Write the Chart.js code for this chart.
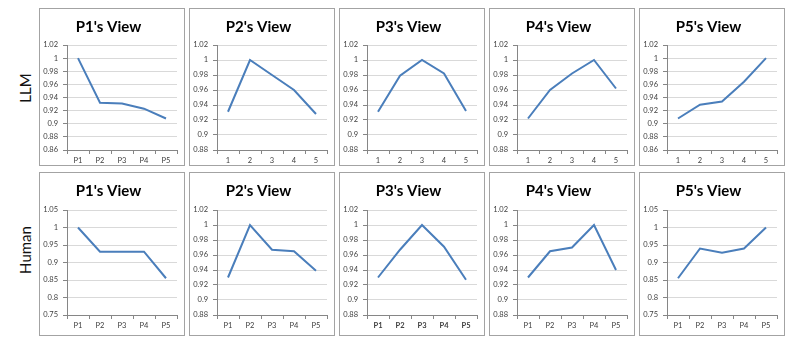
<!DOCTYPE html>
<html>
<head>
<meta charset="utf-8">
<script src="https://cdn.jsdelivr.net/npm/chart.js@4/dist/chart.umd.min.js"></script>
<style>
  body { margin: 0; background: #fff; width: 800px; height: 346px; position: relative; overflow: hidden; font-family: Lato, "Open Sans", sans-serif; }
  .panel { position: absolute; box-sizing: border-box; border: 1px solid #a3a3a3; background: #fff; }
  .panel canvas { position: absolute; left: 0; top: 0; }
  .rowlabel { position: absolute; font-size: 15px; color: #111; transform: translate(-50%, -50%) rotate(-90deg); white-space: nowrap; }
</style>
</head>
<body>
<div class="rowlabel" style="left:25px; top:88px;">LLM</div>
<div class="rowlabel" style="left:25px; top:250px;">Human</div>

<script>
// category labels
const pLabels = ['P1', 'P2', 'P3', 'P4', 'P5'];
const numLabels = ['1', '2', '3', '4', '5'];
const viewTitles = ["P1's View", "P2's View", "P3's View", "P4's View", "P5's View"];

// LLM row
const llmP1 = [1.0, 0.932, 0.931, 0.923, 0.908];
const llmP2 = [0.931, 1.0, 0.980, 0.960, 0.928];
const llmP3 = [0.931, 0.979, 1.0, 0.982, 0.932];
const llmP4 = [0.922, 0.960, 0.982, 1.0, 0.962];
const llmP5 = [0.908, 0.929, 0.934, 0.964, 1.0];

// Human row
const humanP1 = [1.0, 0.931, 0.931, 0.931, 0.855];
const humanP2 = [0.930, 1.0, 0.967, 0.965, 0.939];
const humanP3 = [0.930, 0.967, 1.0, 0.971, 0.927];
const humanP4 = [0.930, 0.965, 0.970, 1.0, 0.940];
const humanP5 = [0.855, 0.940, 0.928, 0.940, 1.0];

// y axis ranges [min, max, step]
const llmRanges = [[0.86, 1.02, 0.02], [0.88, 1.02, 0.02], [0.88, 1.02, 0.02], [0.88, 1.02, 0.02], [0.86, 1.02, 0.02]];
const humanRanges = [[0.75, 1.05, 0.05], [0.88, 1.02, 0.02], [0.88, 1.02, 0.02], [0.88, 1.02, 0.02], [0.75, 1.05, 0.05]];

const panelLefts = [39, 189, 339, 489, 639];
const panelW = 146;

function makePanel(left, top, h, plotTop, plotBottom, title, labels, values, range, boldX) {
    var div = document.createElement('div');
    div.className = 'panel';
    div.style.left = left + 'px';
    div.style.top = top + 'px';
    div.style.width = panelW + 'px';
    div.style.height = h + 'px';
    var canvas = document.createElement('canvas');
    var w = panelW - 2, ih = h - 2;
    canvas.width = w;
    canvas.height = ih;
    canvas.style.width = w + 'px';
    canvas.style.height = ih + 'px';
    div.appendChild(canvas);
    document.body.appendChild(div);

    var xAxisH = 20;
    new Chart(canvas.getContext('2d'), {
        type: 'line',
        data: {
            labels: labels,
            datasets: [{
                data: values,
                borderColor: '#4a7ebb',
                backgroundColor: '#4a7ebb',
                borderWidth: 2,
                pointRadius: 0,
                tension: 0,
                fill: false
            }]
        },
        options: {
            responsive: false,
            animation: false,
            devicePixelRatio: 1,
            layout: { padding: { top: 0, left: 0, right: w - 137, bottom: ih - plotBottom - xAxisH } },
            plugins: {
                legend: { display: false },
                tooltip: { enabled: false },
                title: {
                    display: true,
                    text: title,
                    color: '#000',
                    font: { family: 'Lato', size: 15, weight: 'bold', lineHeight: 1.2 },
                    padding: { top: 9, bottom: plotTop - 27 }
                }
            },
            scales: {
                x: {
                    offset: true,
                    border: { color: '#868686', width: 1 },
                    grid: { offset: true, drawOnChartArea: false, drawTicks: true, tickLength: 4, tickColor: '#868686' },
                    ticks: {
                        color: '#404040',
                        padding: 2,
                        maxRotation: 0,
                        font: { family: 'Lato', size: 7.5, weight: boldX ? 'bold' : 'normal' }
                    },
                    afterFit: function (scale) { scale.height = xAxisH; }
                },
                y: {
                    min: range[0],
                    max: range[1],
                    border: { color: '#868686', width: 1 },
                    grid: { color: '#d9d9d9', lineWidth: 1, tickLength: 4, tickColor: '#868686' },
                    ticks: {
                        stepSize: range[2],
                        color: '#404040',
                        padding: 5,
                        font: { family: 'Lato', size: 7.5 },
                        callback: function (v) { return parseFloat(Number(v).toFixed(2)).toString(); }
                    },
                    afterFit: function (scale) { scale.width = 27; }
                }
            }
        }
    });
}

var llmSeries = [llmP1, llmP2, llmP3, llmP4, llmP5];
var humanSeries = [humanP1, humanP2, humanP3, humanP4, humanP5];

for (var i = 0; i < 5; i++) {
    makePanel(panelLefts[i], 8, 158, 36, 141, viewTitles[i], i === 0 ? pLabels : numLabels, llmSeries[i], llmRanges[i], false);
    makePanel(panelLefts[i], 172, 164, 37, 142, viewTitles[i], pLabels, humanSeries[i], humanRanges[i], i === 2);
}
</script>
</body>
</html>
